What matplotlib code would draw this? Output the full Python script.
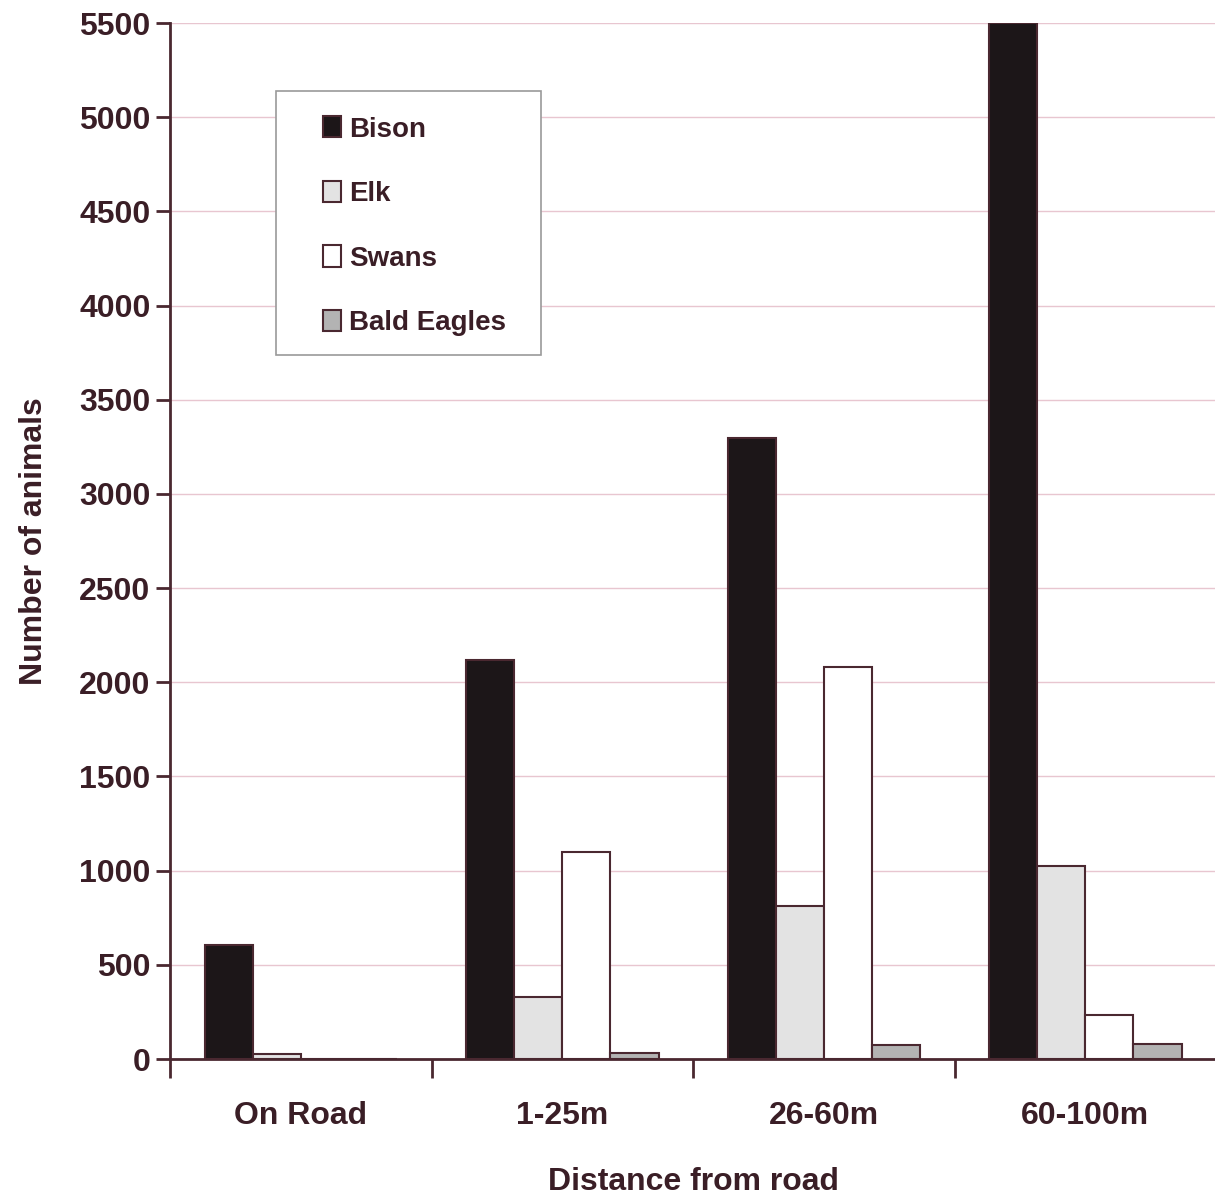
import matplotlib.pyplot as plt
from matplotlib.patches import Rectangle
import numpy as np

categories = ['On Road', '1-25m', '26-60m', '60-100m']
species = ['Bison', 'Elk', 'Swans', 'Bald Eagles']
bison = [605, 2118, 3297, 5500]
elk = [27, 329, 812, 1025]
swans = [0, 1099, 2081, 234]
eagles = [0, 32, 74, 80]

colors = ['#1c1618', '#e3e3e3', '#ffffff', '#b3b3b3']
edge = '#4a2830'
text_col = '#3a1e26'
font = ['Liberation Sans Narrow', 'Liberation Sans', 'DejaVu Sans']

plt.rcParams['font.family'] = font
plt.rcParams['font.weight'] = 'bold'
plt.rcParams['axes.labelweight'] = 'bold'

fig = plt.figure(figsize=(12.15, 11.98), dpi=100)
ax = fig.add_axes([0.1399, 0.116, 0.861, 0.8648])

x = np.arange(len(categories))
w = 0.184
for i, (name, vals) in enumerate(zip(species, [bison, elk, swans, eagles])):
    ax.bar(x + (i - 1.5) * w, vals, w, color=colors[i], edgecolor=edge,
           linewidth=1.5, label=name, zorder=3)

ax.set_xlim(-0.5, 3.5)
ax.set_ylim(0, 5500)
ax.set_yticks(np.arange(0, 5501, 500))
ax.yaxis.grid(True, color='#e8c6d0', linewidth=1.0, zorder=0)
ax.set_xticks(x)
ax.set_xticklabels(categories)
ax.set_xticks(np.arange(-0.5, 3.6, 1.0), minor=True)
ax.tick_params(axis='x', which='major', length=0, pad=30, labelsize=23, colors=text_col)
ax.tick_params(axis='x', which='minor', length=14, width=2, direction='out', color=edge)
ax.tick_params(axis='y', length=10, width=2, direction='out', color=edge,
               labelsize=23, labelcolor=text_col, pad=4)

for s in ['top', 'right']:
    ax.spines[s].set_visible(False)
for s in ['left', 'bottom']:
    ax.spines[s].set_color(edge)
    ax.spines[s].set_linewidth(2)

ax.set_ylabel('Number of animals', fontsize=23, color=text_col, labelpad=22)
ax.set_xlabel('Distance from road', fontsize=23, color=text_col, labelpad=26)

# legend box drawn separately so the padding can match the reference
ax.add_patch(Rectangle((0.1015, 0.6795), 0.2529, 0.2529 * 1044 / 1036,
                       transform=ax.transAxes, facecolor='white',
                       edgecolor='#9a9a9a', linewidth=1.2, zorder=4))
leg = ax.legend(loc='upper left', bbox_to_anchor=(0.146, 0.910),
                frameon=False, handlelength=0.65, handleheight=0.8,
                handletextpad=0.3, labelspacing=1.38, borderpad=0,
                borderaxespad=0,
                prop={'family': font, 'weight': 'bold', 'size': 20})
leg.set_zorder(5)
for t in leg.get_texts():
    t.set_color(text_col)

fig.savefig('out.png', dpi=100)
